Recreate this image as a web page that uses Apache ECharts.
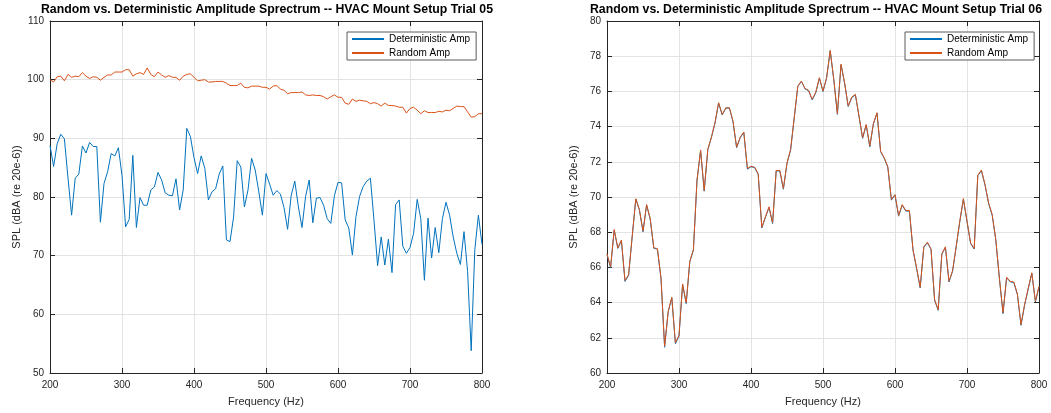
<!DOCTYPE html>
<html><head><meta charset="utf-8">
<script src="https://cdn.jsdelivr.net/npm/echarts@6/dist/echarts.min.js"></script>
<style>html,body{margin:0;padding:0;background:#fff}#c{width:1051px;height:413px}</style>
</head><body><div id="c"></div>
<script>
const freqHz = [200,205,210,215,220,225,230,235,240,245,250,255,260,265,270,275,280,285,290,295,
300,305,310,315,320,325,330,335,340,345,350,355,360,365,370,375,380,385,390,395,
400,405,410,415,420,425,430,435,440,445,450,455,460,465,470,475,480,485,490,495,
500,505,510,515,520,525,530,535,540,545,550,555,560,565,570,575,580,585,590,595,
600,605,610,615,620,625,630,635,640,645,650,655,660,665,670,675,680,685,690,695,
700,705,710,715,720,725,730,735,740,745,750,755,760,765,770,775,780,785,790,795,800];

const detAmp05 = [88.8,85.2,89.1,90.7,89.9,83.2,76.9,83.2,83.9,88.7,87.5,89.3,88.6,88.6,75.7,82.3,84.3,87.4,87.0,88.4,
83.7,74.9,76.2,87.1,74.8,79.9,78.6,78.6,81.2,81.7,84.2,82.9,80.7,80.3,80.2,83.1,77.8,81.2,91.7,90.3,
86.7,84.0,87.0,84.9,79.5,80.9,81.4,83.9,85.3,72.7,72.4,76.6,86.2,85.1,78.3,81.2,86.6,84.6,80.9,76.9,
84.0,82.2,80.3,81.1,80.5,78.2,74.5,80.3,82.7,78.3,74.8,80.1,82.9,75.6,79.8,79.9,78.6,76.3,75.5,80.2,
82.5,82.4,76.1,74.7,70.1,76.7,80.1,81.8,82.7,83.2,76.0,68.3,73.2,68.4,72.8,67.1,78.7,79.5,71.6,70.4,
71.4,73.8,79.6,76.3,65.8,76.4,69.6,74.8,70.5,76.3,79.1,76.9,73.2,70.4,68.5,74.1,67.3,53.8,71.0,76.9,71.9];
const randAmp05 = [100.0,99.6,100.5,100.6,99.8,100.9,100.4,100.6,100.5,101.2,100.6,100.2,100.5,100.4,99.9,100.4,100.8,100.8,101.3,101.3,
101.3,101.7,101.7,100.6,101.0,101.2,100.9,102.0,100.9,100.5,101.3,100.8,100.4,100.7,100.4,100.4,99.9,100.6,100.9,101.0,
100.4,99.8,99.9,100.0,99.6,99.6,99.7,99.7,99.7,99.4,99.0,99.0,99.0,99.4,98.7,98.6,98.9,98.9,98.9,98.7,
98.7,98.4,98.9,99.0,98.4,98.2,97.6,97.8,97.8,97.8,97.9,97.4,97.3,97.4,97.3,97.3,97.1,96.7,97.1,97.4,
97.0,97.0,96.0,95.8,96.7,96.3,96.5,96.4,96.3,95.9,96.1,95.9,95.5,96.0,95.6,95.6,95.5,95.3,95.3,94.3,
95.1,95.3,94.8,94.2,94.7,94.4,94.4,94.4,94.6,94.5,94.8,94.7,95.1,95.5,95.4,95.4,94.5,93.6,93.7,94.2,94.2];
const randAmp06 = [66.77,66.03,68.15,67.11,67.55,65.25,65.59,67.77,69.90,69.29,68.06,69.57,68.78,67.11,67.07,65.40,61.52,63.51,64.30,61.71,
62.14,65.06,63.98,66.35,67.01,70.96,72.66,70.37,72.70,73.40,74.22,75.36,74.69,75.07,75.07,74.31,72.83,73.40,73.69,71.62,
71.75,71.70,71.32,68.28,68.87,69.44,68.53,71.51,71.51,70.48,71.94,72.70,74.50,76.30,76.59,76.17,76.06,75.55,75.96,76.78,
76.02,76.78,78.33,76.68,74.73,77.54,76.49,75.17,75.68,75.83,74.60,73.37,74.12,72.89,74.18,74.79,72.61,72.23,71.72,69.86,
70.14,68.95,69.57,69.23,69.23,67.01,65.97,64.87,67.17,67.43,67.05,64.17,63.60,66.77,67.17,65.21,65.82,67.20,68.63,69.91,
68.63,67.39,67.07,71.24,71.53,70.71,69.67,69.00,67.58,65.40,63.41,65.44,65.21,65.17,64.49,62.75,63.89,64.80,65.69,64.08,64.93];
const detAmp06 = [66.72,65.98,68.12,67.08,67.52,65.20,65.55,67.74,69.88,69.26,68.02,69.55,68.75,67.08,67.04,65.36,61.46,63.48,64.27,61.66,
62.10,65.03,63.94,66.32,66.98,70.94,72.64,70.33,72.68,73.38,74.20,75.34,74.66,75.05,75.05,74.28,72.80,73.37,73.66,71.58,
71.72,71.67,71.29,68.24,68.84,69.41,68.49,71.48,71.48,70.44,71.91,72.67,74.47,76.28,76.57,76.14,76.03,75.52,75.93,76.76,
75.99,76.75,78.31,76.65,74.69,77.52,76.46,75.14,75.65,75.80,74.57,73.33,74.09,72.85,74.15,74.76,72.58,72.20,71.69,69.82,
70.11,68.91,69.54,69.20,69.20,66.98,65.93,64.83,67.14,67.40,67.02,64.13,63.56,66.74,67.14,65.17,65.79,67.17,68.60,69.88,
68.60,67.36,67.04,71.21,71.50,70.68,69.63,68.97,67.55,65.36,63.37,65.41,65.18,65.14,64.45,62.71,63.86,64.77,65.66,64.04,64.90];

const seriesNames = ['Deterministic Amp','Random Amp'];
const titles = ['Random vs. Deterministic Amplitude Sprectrum -- HVAC Mount Setup Trial 05',
                'Random vs. Deterministic Amplitude Sprectrum -- HVAC Mount Setup Trial 06'];
const yRange05 = [50,110,10];
const yRange06 = [60,80,2];

const pair = ys => freqHz.map((f,i)=>[f, ys[i]]);
const FONT = 'Liberation Sans, Arial, Helvetica, sans-serif';
const AX = '#262626';
const grids = [
  {left:50, right:569, top:21, bottom:40},
  {left:607, right:12, top:21, bottom:40}
];
const xAxes = [], yAxes = [];
[0,1].forEach(g=>{
  const base = {type:'value', min:200, max:800, interval:100, gridIndex:g,
    axisLine:{show:true, onZero:false, lineStyle:{color:AX, width:1}},
    axisTick:{show:true, inside:true, length:5, lineStyle:{color:AX}},
  };
  xAxes.push(Object.assign({}, base, {position:'bottom', name:'Frequency (Hz)', nameLocation:'middle', nameGap:23,
    nameTextStyle:{color:AX, fontSize:11, fontFamily:FONT},
    axisLabel:{color:AX, fontSize:10, fontFamily:FONT, margin:7},
    splitLine:{show:true, lineStyle:{color:'#e3e3e3', width:1}}}));
  xAxes.push(Object.assign({}, base, {position:'top', axisLabel:{show:false}, splitLine:{show:false}}));
  const r = g===0 ? yRange05 : yRange06;
  const ybase = {type:'value', min:r[0], max:r[1], interval:r[2], gridIndex:g,
    axisLine:{show:true, onZero:false, lineStyle:{color:AX, width:1}},
    axisTick:{show:true, inside:true, length:5, lineStyle:{color:AX}}};
  yAxes.push(Object.assign({}, ybase, {position:'left', name:'SPL (dBA (re 20e-6))', nameLocation:'middle', nameGap:28,
    nameTextStyle:{color:AX, fontSize:11, fontFamily:FONT},
    axisLabel:{color:AX, fontSize:10, fontFamily:FONT, margin:6},
    splitLine:{show:true, lineStyle:{color:'#e3e3e3', width:1}}}));
  yAxes.push(Object.assign({}, ybase, {position:'right', axisLabel:{show:false}, splitLine:{show:false}}));
});

const mk = (name, data, g, color, z) => ({type:'line', name, data:pair(data), xAxisIndex:g*2, yAxisIndex:g*2,
  symbol:'none', lineStyle:{color, width:1}, itemStyle:{color}, z, animation:false});

const legendBase = {orient:'vertical', data:seriesNames, itemWidth:32, itemHeight:2, itemGap:2,
  backgroundColor:'#fff', borderColor:'#5a5a5a', borderWidth:1, padding:[1,6,1,4],
  textStyle:{color:'#000', fontSize:10, fontFamily:FONT, lineHeight:12}};

const chart = echarts.init(document.getElementById('c'), null, {renderer:'canvas'});
chart.setOption({
  animation:false,
  title:[
    {text:titles[0], left:262, top:-1, textAlign:'center', textStyle:{fontSize:12.3, fontWeight:'bold', color:'#000', fontFamily:FONT}},
    {text:titles[1], left:811, top:-1, textAlign:'center', textStyle:{fontSize:12.3, fontWeight:'bold', color:'#000', fontFamily:FONT}}
  ],
  legend:[
    Object.assign({}, legendBase, {left:347, top:32}),
    Object.assign({}, legendBase, {left:905, top:32})
  ],
  grid:grids,
  xAxis:xAxes,
  yAxis:yAxes,
  series:[
    mk(seriesNames[0], detAmp05, 0, '#0072BD', 2),
    mk(seriesNames[1], randAmp05, 0, '#D95319', 3),
    mk(seriesNames[0], detAmp06, 1, '#0072BD', 2),
    mk(seriesNames[1], randAmp06, 1, '#D95319', 3)
  ]
});
</script></body></html>
